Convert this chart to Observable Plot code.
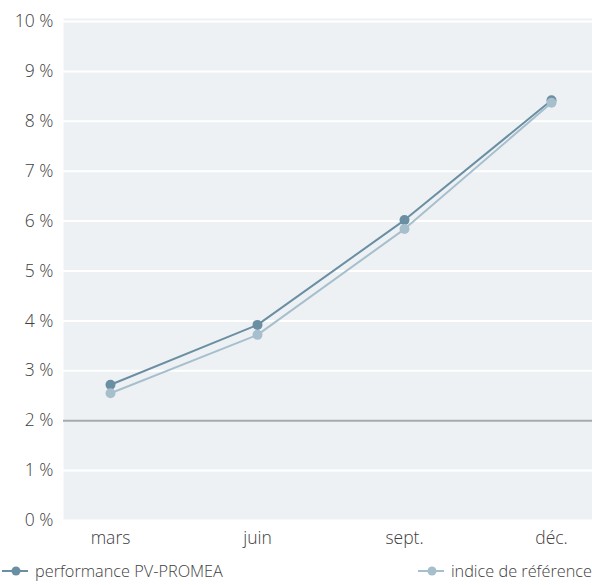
<!DOCTYPE html>
<html><head><meta charset="utf-8">
<script src="https://cdn.jsdelivr.net/npm/d3@7"></script>
<script src="https://cdn.jsdelivr.net/npm/@observablehq/plot@0.6"></script>
<style>
body{margin:0;background:#fff;font-family:"Open Sans",sans-serif;font-weight:300;}
#legend{display:flex;justify-content:space-between;width:592px;height:29px;align-items:center;font-size:16.3px;color:#404040;}
#legend span{display:flex;align-items:center;gap:6px;}
</style></head><body>
<div id="chart"></div>
<div id="legend"></div>
<script>
const months = ["mars", "juin", "sept.", "déc."];
const performance = [2.72, 3.92, 6.02, 8.42];
const indice = [2.55, 3.72, 5.84, 8.37];
const seriesNames = ["performance PV-PROMEA", "indice de référence"];
const colors = ["#6a8fa3", "#a7bfcd"];
const yTicks = [0,1,2,3,4,5,6,7,8,9,10];
const baseline = 2;

const data = [];
months.forEach((m,i)=>{
  data.push({month:m, value:performance[i], series:seriesNames[0]});
});
months.forEach((m,i)=>{
  data.push({month:m, value:indice[i], series:seriesNames[1]});
});

const chart = Plot.plot({
  width: 592, height: 556,
  marginLeft: 63, marginRight: 0, marginTop: 18, marginBottom: 36,
  style: {fontFamily: '"Open Sans", sans-serif', fontSize: "17.5px", fontWeight: 300, color: "#404040"},
  x: {type: "point", domain: months, padding: 0.316, insetRight: -6, label: null},
  y: {domain: [0, 10.06], label: null},
  color: {domain: seriesNames, range: colors},
  marks: [
    Plot.frame({fill: "#edf1f4", stroke: null}),
    Plot.gridY(yTicks, {stroke: "#fff", strokeOpacity: 1, strokeWidth: 2}),
    Plot.ruleY([baseline], {stroke: "#a3a8a8", strokeWidth: 2}),
    Plot.axisY(yTicks, {tickSize: 0, tickPadding: 10, tickFormat: d => d + " %", fill: "#404040", fontSize: 17.5}),
    Plot.axisX({tickSize: 0, tickPadding: 11, fill: "#404040", fontSize: 17.5}),
    Plot.line(data, {x: "month", y: "value", z: "series", stroke: "series", strokeWidth: 2}),
    Plot.dot(data, {x: "month", y: "value", fill: "series", r: 5})
  ]
});
document.getElementById("chart").appendChild(chart);

const legend = document.getElementById("legend");
seriesNames.forEach((s,i)=>{
  const span = document.createElement("span");
  span.innerHTML = `<svg width="29" height="12"><line x1="2" x2="28" y1="6" y2="6" stroke="${colors[i]}" stroke-width="2"/><circle cx="16" cy="6" r="4.5" fill="${colors[i]}"/></svg><span>${s}</span>`;
  legend.appendChild(span);
});
</script>
</body></html>
